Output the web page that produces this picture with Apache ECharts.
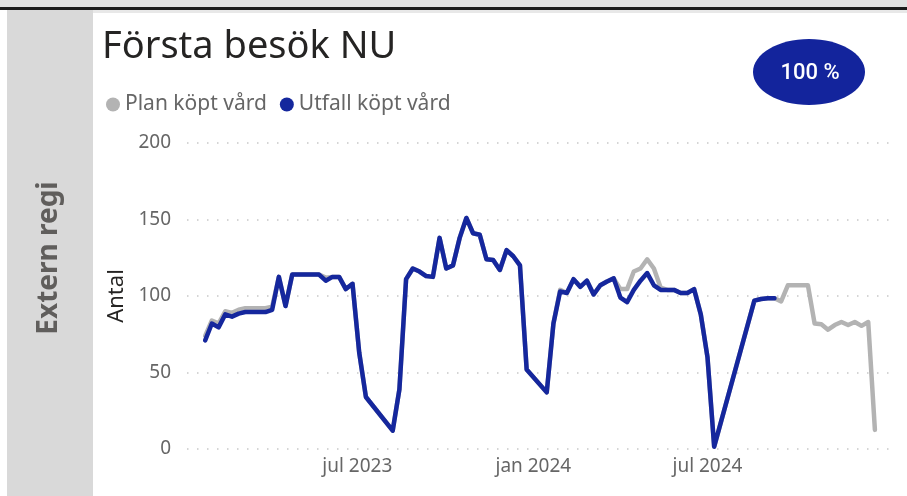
<!DOCTYPE html>
<html>
<head>
<meta charset="utf-8">
<title>Första besök NU</title>
<script src="https://cdn.jsdelivr.net/npm/echarts@6/dist/echarts.min.js"></script>
<style>
html, body { margin: 0; padding: 0; background: #ffffff; }
#chart { width: 907px; height: 496px; }
</style>
</head>
<body>
<div id="chart"></div>
<script>
// en punkt per vecka, första veckan nedan
var firstWeek = '2023-01-23'

var planKoptVard = [
  74, 84, 82, 90, 89, 91, 92, 92, 92, 92,
  93, 112.5, 93.5, 114, 114, 114, 114, 114, 112, 112.5,
  112.5, 104.5, 108, 63, 34, null, null, null, 12, 39,
  111, 118, 116, 113, 112.5, 138, 118, 120, 138, 151,
  141, 140, 124, 123.5, 117, 130, 126, 120, 52, null,
  null, 37, 82, 104, 102, 111, 106, 110, 101, 107,
  109.5, 111.5, 104.5, 104.5, 116, 118, 124, 118, 105.5, 104,
  104, 102, 102, 104.5, 88, 60, 1.5, null, null, null,
  null, null, 97, 98, 98.5, 98.5, 96.5, 107, 107, 107,
  107, 82, 81.5, 78, 81, 83, 81, 83, 80.5, 83,
  12.5
]

var utfallKoptVard = [
  71, 82, 79.5, 88, 86.5, 88.5, 89.5, 89.5, 89.5, 89.5,
  91, 112.5, 93.5, 114, 114, 114, 114, 114, 110, 112.5,
  112.5, 104.5, 108, 63, 34, null, null, null, 12, 39,
  111, 118, 116, 113, 112.5, 138, 118, 120, 138, 151,
  141, 140, 124, 123.5, 117, 130, 126, 120, 52, null,
  null, 37, 82, 103, 102, 111, 106, 110, 101, 107,
  109.5, 111.5, 99, 96, 104, 110, 115, 107, 104, 104,
  104, 102, 102, 104.5, 88, 60, 1.5, null, null, null,
  null, null, 97, 98, 98.5, 98.5
]

var tickDates = ['2023-07-01', '2024-01-01', '2024-07-01']
var tickLabels = ['jul 2023', 'jan 2024', 'jul 2024']

var colorPlan = '#b3b3b3'
var colorUtfall = '#15279d'

function toTime(s) {
  return new Date(s + 'T00:00:00').getTime()
}

var weekMs = 7 * 24 * 3600 * 1000
var start = toTime(firstWeek)

function pairs(values) {
  var out = []
  for (var i = 0; i < values.length; i++) {
    out.push([start + i * weekMs, values[i]])
  }
  return out
}

var tickTimes = tickDates.map(toTime)

var myChart = echarts.init(document.getElementById('chart'))

var option = {
  animation: false,
  color: [colorPlan, colorUtfall],
  textStyle: { fontFamily: 'Noto Sans' },
  title: {
    text: 'Första besök NU',
    left: 102,
    top: 28,
    padding: 0,
    textStyle: {
      fontFamily: 'Noto Sans',
      fontSize: 38,
      fontWeight: 'normal',
      color: '#252423'
    }
  },
  legend: {
    left: 106,
    top: 94,
    padding: 0,
    icon: 'circle',
    itemWidth: 14,
    itemHeight: 14,
    itemGap: 13,
    data: ['Plan köpt vård', 'Utfall köpt vård'],
    textStyle: {
      fontFamily: 'Noto Sans',
      fontSize: 21,
      color: '#666666'
    }
  },
  grid: {
    left: 187,
    right: 12,
    top: 143,
    bottom: 47,
    containLabel: false,
    outerBoundsMode: 'none'
  },
  xAxis: {
    type: 'value',
    min: toTime('2023-01-04'),
    max: toTime('2025-01-13'),
    axisLine: { show: false },
    axisTick: { show: false },
    splitLine: { show: false },
    axisLabel: {
      customValues: tickTimes,
      margin: 8,
      fontFamily: 'Noto Sans',
      fontSize: 19,
      color: '#666666',
      formatter: function (value) {
        var idx = tickTimes.indexOf(value)
        return idx >= 0 ? tickLabels[idx] : ''
      }
    }
  },
  yAxis: {
    type: 'value',
    min: 0,
    max: 200,
    interval: 50,
    name: 'Antal',
    nameLocation: 'middle',
    nameRotate: 90,
    nameGap: 59,
    nameTextStyle: {
      fontFamily: 'Noto Sans',
      fontSize: 22,
      color: '#252423'
    },
    axisLine: { show: false },
    axisTick: { show: false },
    axisLabel: {
      margin: 16,
      fontFamily: 'Noto Sans',
      fontSize: 19,
      color: '#666666'
    },
    splitLine: {
      lineStyle: {
        color: '#c8c8c8',
        width: 1.5,
        type: [1.5, 8.5]
      }
    }
  },
  series: [
    {
      name: 'Plan köpt vård',
      type: 'line',
      data: pairs(planKoptVard),
      symbol: 'none',
      connectNulls: true,
      lineStyle: { color: colorPlan, width: 4.5, join: 'round', cap: 'round' },
      itemStyle: { color: colorPlan },
      z: 2
    },
    {
      name: 'Utfall köpt vård',
      type: 'line',
      data: pairs(utfallKoptVard),
      symbol: 'none',
      connectNulls: true,
      lineStyle: { color: colorUtfall, width: 4.5, join: 'round', cap: 'round' },
      itemStyle: { color: colorUtfall },
      z: 3
    }
  ],
  graphic: [
    { type: 'rect', silent: true, z: -10, shape: { x: 0, y: 0, width: 907, height: 7 }, style: { fill: '#e0e0e0' } },
    { type: 'rect', silent: true, z: -10, shape: { x: 0, y: 7, width: 907, height: 3 }, style: { fill: '#1a1a1a' } },
    { type: 'rect', silent: true, z: -10, shape: { x: 93, y: 10, width: 814, height: 3 }, style: { fill: '#e8e8e8' } },
    { type: 'rect', silent: true, z: -10, shape: { x: 7, y: 10, width: 86, height: 486 }, style: { fill: '#d9d9d9' } },
    {
      type: 'text',
      silent: true,
      x: 49,
      y: 258,
      rotation: Math.PI / 2,
      style: {
        text: 'Extern regi',
        fontFamily: 'Noto Sans',
        fontSize: 28,
        fontWeight: 'bold',
        fill: '#605e5c',
        align: 'center',
        verticalAlign: 'middle'
      }
    },
    {
      type: 'ellipse',
      silent: true,
      shape: { cx: 809, cy: 72, rx: 56, ry: 33 },
      style: { fill: '#13249c' }
    },
    {
      type: 'text',
      silent: true,
      x: 810,
      y: 73,
      style: {
        text: '100 %',
        fontFamily: 'Roboto',
        fontSize: 22,
        fontWeight: 500,
        fill: '#ffffff',
        align: 'center',
        verticalAlign: 'middle'
      }
    }
  ]
}

myChart.setOption(option)
</script>
</body>
</html>
